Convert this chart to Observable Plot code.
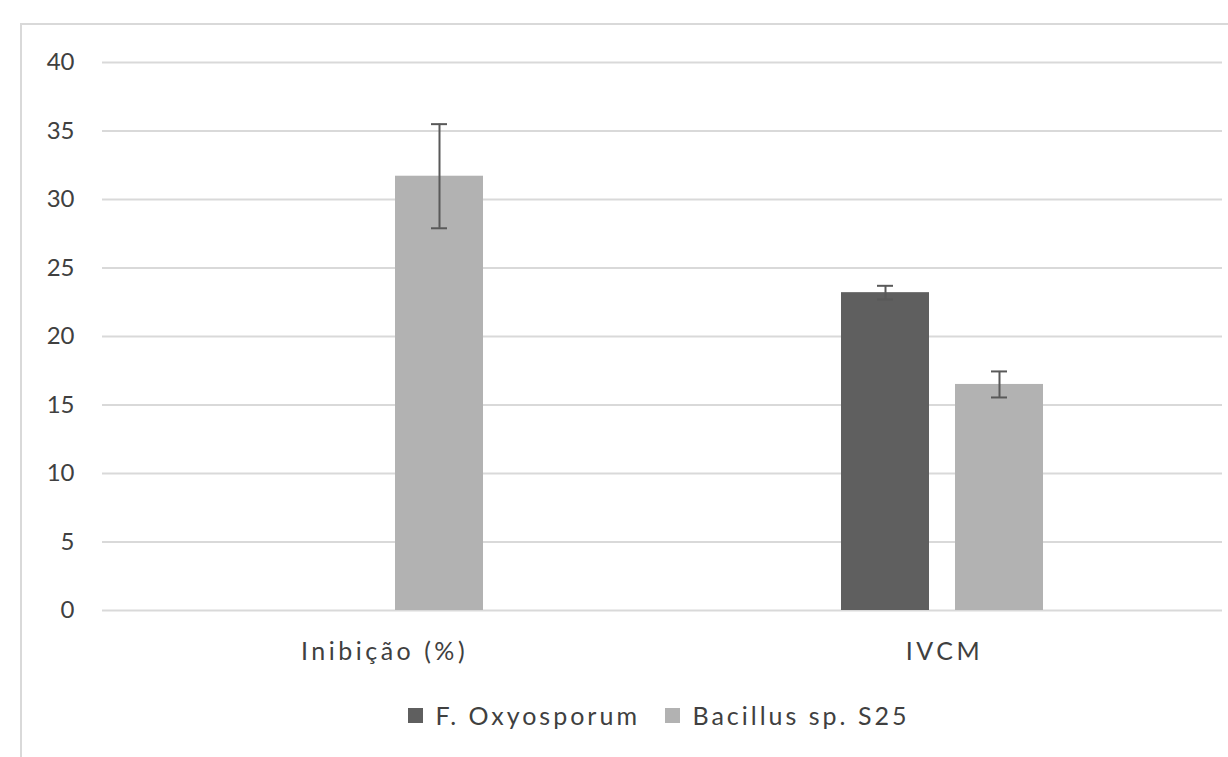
<!DOCTYPE html>
<html>
<head>
<meta charset="utf-8">
<script src="https://cdn.jsdelivr.net/npm/d3@7"></script>
<script src="https://cdn.jsdelivr.net/npm/@observablehq/plot@0.6"></script>
<style>
  html, body { margin: 0; padding: 0; background: #fff; }
  #wrap { position: relative; width: 1228px; height: 757px; overflow: hidden; font-family: Lato, "Open Sans", sans-serif; }
  #frame { position: absolute; left: 20px; top: 23px; width: 1300px; height: 900px; border-left: 2px solid #d9d9d9; border-top: 2px solid #d9d9d9; }
  #chart { position: absolute; left: 0; top: 0; }
  #legend { position: absolute; left: 0; top: 700px; width: 1228px; }
</style>
</head>
<body>
<div id="wrap">
  <div id="frame"></div>
  <div id="chart"></div>
  <div id="legend"></div>
</div>
<script>
const categories = ["Inibição (%)", "IVCM"];
const series = ["F. Oxyosporum", "Bacillus sp. S25"];
const fOxyValues = [null, 23.2];
const fOxyErrors = [null, 0.5];
const bacillusValues = [31.7, 16.5];
const bacillusErrors = [3.8, 0.95];
const yTicks = [0, 5, 10, 15, 20, 25, 30, 35, 40];
const seriesColors = ["#5f5f5f", "#b2b2b2"];

const rows = [];
categories.forEach((c, i) => {
  if (fOxyValues[i] != null) rows.push({category: c, series: series[0], value: fOxyValues[i], err: fOxyErrors[i]});
  if (bacillusValues[i] != null) rows.push({category: c, series: series[1], value: bacillusValues[i], err: bacillusErrors[i]});
});

const plot = Plot.plot({
  width: 1228,
  height: 690,
  marginTop: 62,
  marginBottom: 80,
  marginLeft: 102,
  marginRight: 6,
  style: {fontFamily: "Lato, 'Open Sans', sans-serif", fontSize: "24px", color: "#404040", background: "transparent", overflow: "visible"},
  fx: {domain: categories, padding: 0, label: null},
  x: {domain: series, paddingInner: 0.228, paddingOuter: 1.57, axis: null},
  y: {domain: [0, 40], label: null},
  color: {domain: series, range: seriesColors},
  marks: [
    Plot.gridY(yTicks, {stroke: "#d9d9d9", strokeOpacity: 1, strokeWidth: 2}),
    Plot.axisY(yTicks, {tickSize: 0, tickPadding: 28, label: null, fill: "#404040", fontSize: 24}),
    Plot.axisFx({anchor: "bottom", tickSize: 0, tickPadding: 32, label: null, fill: "#404040", fontSize: 25, dx: 2}),
    Plot.barY(rows, {fx: "category", x: "series", y: "value", fill: "series"}),
    Plot.ruleX(rows, {fx: "category", x: "series", y1: d => d.value - d.err, y2: d => d.value + d.err, stroke: "#595959", strokeWidth: 2}),
    Plot.tickY(rows, {fx: "category", x: "series", y: d => d.value - d.err, insetLeft: 36, insetRight: 36, stroke: "#595959", strokeWidth: 2}),
    Plot.tickY(rows, {fx: "category", x: "series", y: d => d.value + d.err, insetLeft: 36, insetRight: 36, stroke: "#595959", strokeWidth: 2})
  ]
});
document.getElementById("chart").appendChild(plot);
d3.select(plot).selectAll("g[aria-label='fx-axis tick label'] text").style("letter-spacing", "3.5px");

const legend = plot.legend("color", {
  swatchSize: 15,
  style: {fontFamily: "Lato, 'Open Sans', sans-serif", fontSize: "25px", color: "#404040", letterSpacing: "3px"}
});
const lg = document.getElementById("legend");
lg.appendChild(legend);
legend.style.marginLeft = "408px";
legend.style.minHeight = "0";
</script>
</body>
</html>
